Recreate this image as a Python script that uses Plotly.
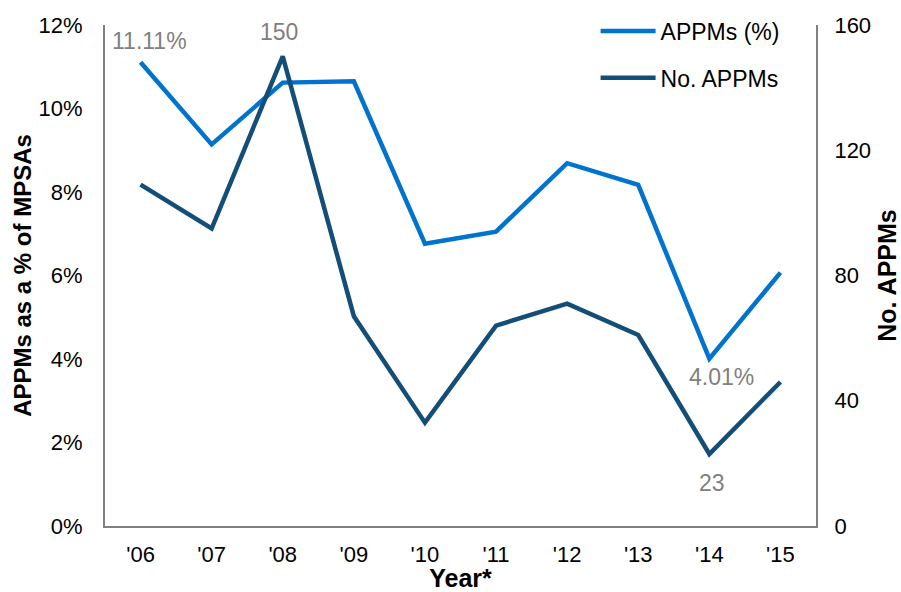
import plotly.graph_objects as go

years = ["'06", "'07", "'08", "'09", "'10", "'11", "'12", "'13", "'14", "'15"]
appm_pct = [11.11, 9.14, 10.62, 10.65, 6.76, 7.05, 8.69, 8.17, 4.01, 6.07]
appm_num = [109, 95, 150, 67, 33, 64, 71, 61, 23, 46]

LIGHT = "#0073CF"
DARK = "#124E78"
GRAY = "#808080"
FONT = "Liberation Sans, Arial, sans-serif"
TICK_FS = 22
TITLE_FS = 25

fig = go.Figure()
fig.add_trace(go.Scatter(x=years, y=appm_pct, name="APPMs (%)", mode="lines",
                         line=dict(color=LIGHT, width=4.5), legendgroup="a"))
fig.add_trace(go.Scatter(x=years, y=appm_num, name="No. APPMs", mode="lines",
                         line=dict(color=DARK, width=4.5), yaxis="y2", legendgroup="b"))

annos = [
    dict(x=years[0], y=appm_pct[0], yref="y", text="11.11%", yshift=21, xshift=9),
    dict(x=years[2], y=appm_num[2], yref="y2", text="150", yshift=24, xshift=-4),
    dict(x=years[8], y=appm_pct[8], yref="y", text="4.01%", yshift=-18, xshift=12),
    dict(x=years[8], y=appm_num[8], yref="y2", text="23", yshift=-29, xshift=3),
]
for a in annos:
    fig.add_annotation(xref="x", showarrow=False, font=dict(color=GRAY, size=23, family=FONT), **a)

fig.update_layout(
    width=901, height=592,
    margin=dict(l=105, r=85, t=25, b=66, autoexpand=False),
    plot_bgcolor="white", paper_bgcolor="white",
    font=dict(family=FONT, size=TICK_FS, color="black"),
    showlegend=True,
    legend=dict(x=0.69, y=1.031, xanchor="left", yanchor="top", bgcolor="rgba(0,0,0,0)",
                font=dict(size=23), tracegroupgap=14, itemwidth=55),
    xaxis=dict(type="category", range=[-0.5, 9.5], showgrid=False, showline=True,
               linecolor=GRAY, linewidth=2, ticks="", ticklabelstandoff=8,
               tickfont=dict(size=TICK_FS),
               title=dict(text="<b>Year*</b>", standoff=0, font=dict(size=TITLE_FS))),
    yaxis=dict(range=[0, 12], dtick=2, ticksuffix="%", showgrid=False, zeroline=False,
               showline=True, linecolor=GRAY, linewidth=2, ticks="", ticklabelstandoff=16,
               tickfont=dict(size=TICK_FS),
               title=dict(text="<b>APPMs as a % of MPSAs</b>", standoff=0, font=dict(size=24))),
    yaxis2=dict(range=[0, 160], dtick=40, overlaying="y", side="right", showgrid=False,
                zeroline=False, showline=True, linecolor=GRAY, linewidth=2, ticks="",
                ticklabelstandoff=12, tickfont=dict(size=TICK_FS),
                title=dict(text="<b>No. APPMs</b>", standoff=10, font=dict(size=TITLE_FS))),
)

fig.write_html("out.html", config={"displayModeBar": False},
               post_script="document.body.style.margin='0px';")
